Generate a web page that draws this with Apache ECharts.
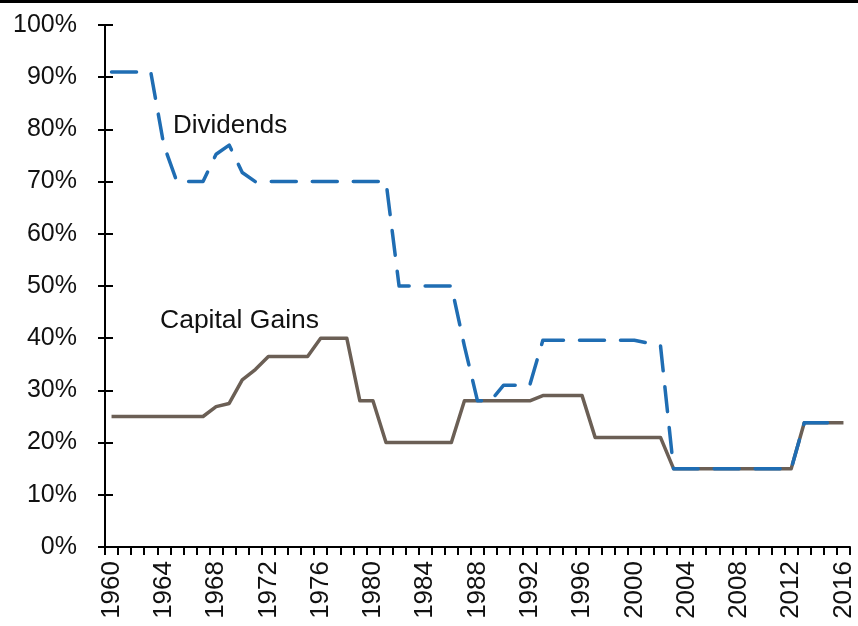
<!DOCTYPE html>
<html>
<head>
<meta charset="utf-8">
<script src="https://cdn.jsdelivr.net/npm/echarts@6/dist/echarts.min.js"></script>
<style>
html,body{margin:0;padding:0;background:#fff;}
#c{width:858px;height:626px;}
</style>
</head>
<body>
<div id="c"></div>
<script>
var years = [];
for (var y = 1960; y <= 2016; y++) years.push(String(y));

var dividends = [91, 91, 91, 91, 77, 70, 70, 70, 75.25, 77, 71.75,
  70, 70, 70, 70, 70, 70, 70, 70, 70, 70, 70,
  50, 50, 50, 50, 50, 38.5, 28, 28, 31, 31, 31,
  39.6, 39.6, 39.6, 39.6, 39.6, 39.6, 39.6, 39.6, 39.1, 38.6,
  15, 15, 15, 15, 15, 15, 15, 15, 15, 15,
  23.8, 23.8, 23.8, 23.8];

var capitalGains = [25, 25, 25, 25, 25, 25, 25, 25, 26.9, 27.5, 32, 34,
  36.5, 36.5, 36.5, 36.5, 40, 40, 40, 28, 28,
  20, 20, 20, 20, 20, 20, 28, 28, 28, 28, 28, 28,
  29, 29, 29, 29, 21, 21, 21, 21, 21, 21,
  15, 15, 15, 15, 15, 15, 15, 15, 15, 15,
  23.8, 23.8, 23.8, 23.8];

var yTicks = [0, 10, 20, 30, 40, 50, 60, 70, 80, 90, 100];

var FONT = 'Liberation Sans';
var chart = echarts.init(document.getElementById('c'), null, {renderer: 'canvas'});
chart.setOption({
  animation: false,
  backgroundColor: '#ffffff',
  grid: {left: 105, right: 8, top: 25, bottom: 79, containLabel: false},
  xAxis: {
    type: 'category',
    data: years,
    boundaryGap: true,
    axisLine: {show: true, lineStyle: {color: '#000', width: 2}},
    axisTick: {show: true, interval: 0, length: 8, lineStyle: {color: '#000', width: 2}},
    axisLabel: {interval: 3, rotate: 90, margin: 14, color: '#111', fontSize: 26, fontFamily: FONT},
    splitLine: {show: false}
  },
  yAxis: [{
    type: 'value',
    min: yTicks[0], max: yTicks[yTicks.length - 1], interval: 10,
    axisLine: {show: true, lineStyle: {color: '#000', width: 2}},
    axisTick: {show: true, length: 7, lineStyle: {color: '#000', width: 2}},
    axisLabel: {formatter: '{value}%', margin: 28, color: '#111', fontSize: 25, fontFamily: FONT},
    splitLine: {show: false}
  }, {
    type: 'value', position: 'left',
    min: yTicks[0], max: yTicks[yTicks.length - 1], interval: 10,
    axisLine: {show: false},
    axisTick: {show: true, inside: true, length: 8, lineStyle: {color: '#000', width: 2}},
    axisLabel: {show: false},
    splitLine: {show: false}
  }],
  series: [{
    name: 'Capital Gains',
    type: 'line',
    data: capitalGains,
    showSymbol: false,
    symbol: 'none',
    lineStyle: {color: '#6B5F55', width: 3.5, join: 'round'}
  }, {
    name: 'Dividends',
    type: 'line',
    data: dividends,
    showSymbol: false,
    symbol: 'none',
    lineStyle: {color: '#1F6DB3', width: 3.5, type: [25, 16], cap: 'round', join: 'round'}
  }],
  graphic: [
    {type: 'rect', left: 0, top: 0, shape: {width: 858, height: 3}, style: {fill: '#000'}},
    {type: 'text', left: 173, top: 113, style: {text: 'Dividends', font: '26px "' + FONT + '"', fill: '#111'}},
    {type: 'text', left: 160, top: 307, style: {text: 'Capital Gains', font: '26.5px "' + FONT + '"', fill: '#111'}}
  ]
});
</script>
</body>
</html>
